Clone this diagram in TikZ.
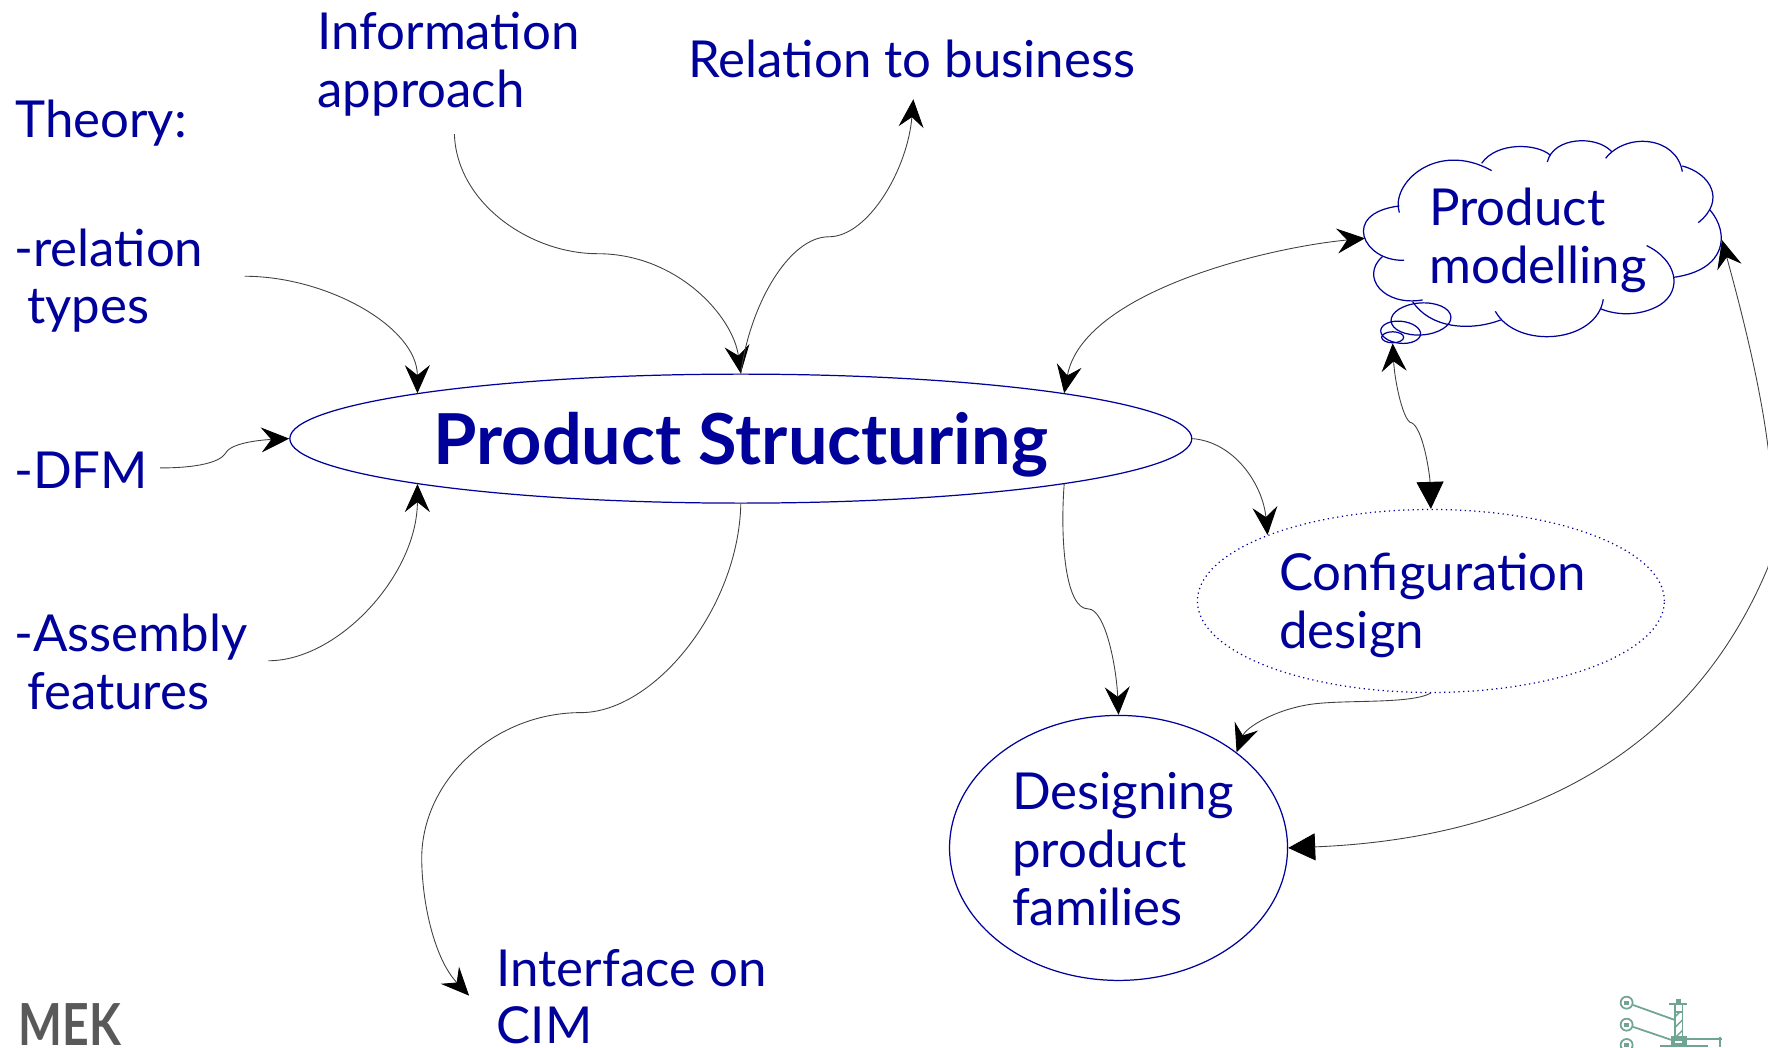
\documentclass[tikz,border=0pt]{standalone}
\usepackage{fontspec}
\setmainfont{Lato}
\usetikzlibrary{arrows.meta,shapes.geometric,patterns}
\definecolor{inkblue}{RGB}{0,0,155}
\definecolor{logogreen}{RGB}{112,165,146}
\tikzset{
  smalltip/.tip={Stealth[length=0.28cm,width=0.25cm,inset=0.1cm,color=black]},
  bigtip/.tip={Stealth[length=0.27cm,width=0.27cm,inset=0pt,color=black]},
  label/.style={text=inkblue,inner sep=0pt,align=left,anchor=west,font=\fontsize{14.5}{16.4}\selectfont},
  blob/.style={draw=inkblue,ellipse,inner sep=0pt,line width=0.35pt},
  cloudline/.style={draw=inkblue,line width=0.35pt},
  link/.style={draw=black!75,line width=0.25pt},
  logoline/.style={draw=logogreen,line width=0.5pt}
}
\begin{document}
\begin{tikzpicture}[x=0.011276cm,y=-0.011276cm]
\useasboundingbox (0,0) rectangle (1568,928.6);
\clip (0,0) rectangle (1568,928.6);
\node[label] (theory) at (13,109) {Theory:};
\node[label] (info) at (281,57) {Information\\approach};
\node[label] (business) at (610,52) {Relation to business};
\node[label] (relation) at (12,249) {-relation\\\hspace{0.13cm}types};
\node[label] (dfm) at (12,417) {-DFM};
\node[label] (assembly) at (12,587) {-Assembly\\\hspace{0.13cm}features};
\node[label] (cim) at (440,884) {Interface on\\CIM};
\node[blob,minimum width=9.02cm,minimum height=1.29cm] (structuring) at (657,389) {};
\node[text=inkblue,inner sep=0pt,font=\fontsize{20}{24}\bfseries\selectfont] (structuringlabel) at (657,394) {Product Structuring};
\node[blob,densely dotted,minimum width=4.67cm,minimum height=1.83cm] (config) at (1269,533) {};
\node[label] (configlabel) at (1134,537) {Configuration\\design};
\node[blob,minimum width=3.38cm,minimum height=2.65cm] (families) at (992,752) {};
\node[label] (familieslabel) at (897,753) {Designing\\product\\families};
\node[label] (modelling) at (1267,213) {Product\\modelling};
\begin{scope}[shift={(1188.4,106.4)},scale=0.2956]
  \draw[cloudline] (178,278) .. controls (150,190) and (290,60) .. (455,152);
  \draw[cloudline] (425,130) .. controls (470,65) and (590,70) .. (630,105);
  \draw[cloudline] (622,126) .. controls (640,50) and (770,45) .. (815,95);
  \draw[cloudline] (797,115) .. controls (860,35) and (1010,50) .. (1027,155);
  \draw[cloudline] (1027,138) .. controls (1110,160) and (1160,240) .. (1075,308);
  \draw[cloudline] (1110,270) .. controls (1170,340) and (1160,450) .. (1002,472);
  \draw[cloudline] (920,377) .. controls (1010,420) and (1030,510) .. (960,555) .. controls (910,585) and (840,590) .. (783,567);
  \draw[cloudline] (790,538) .. controls (770,670) and (530,690) .. (466,574);
  \draw[cloudline] (482,600) .. controls (390,635) and (270,625) .. (218,545);
  \draw[cloudline] (248,540) .. controls (130,560) and (60,470) .. (127,410);
  \draw[cloudline] (192,421) .. controls (70,425) and (0,280) .. (178,258);
  \node[blob,minimum width=0.6cm,minimum height=0.32cm,rotate=4] (bubblea) at (243,597) {};
  \node[blob,minimum width=0.4cm,minimum height=0.22cm,rotate=-6] (bubbleb) at (182,637) {};
  \node[blob,minimum width=0.22cm,minimum height=0.11cm] (bubblec) at (158,652) {};
  \coordinate (cloudwest) at (75,355);
  \coordinate (cloudeast) at (1146,360);
\end{scope}
\coordinate (infotail) at (403,119);
\coordinate (relationtail) at (217,245);
\coordinate (dfmtail) at (142,415);
\coordinate (assemblytail) at (238,586);
\coordinate (businesshead) at (810,88);
\coordinate (cimhead) at (416,883);
\draw[link,-smalltip] (infotail) .. controls (405,180) and (470,225) .. (530,225) .. controls (600,225) and (650,280) .. (structuring.north);
\draw[link,-smalltip] (structuring.north) .. controls (665,270) and (700,210) .. (735,210) .. controls (770,210) and (805,150) .. (businesshead);
\draw[link,-smalltip] (relationtail) .. controls (290,245) and (370,290) .. (structuring.172.6);
\draw[link,-smalltip] (dfmtail) .. controls (175,415) and (195,410) .. (200,402) .. controls (205,392) and (235,390) .. (structuring.west);
\draw[link,-smalltip] (assemblytail) .. controls (300,586) and (370,510) .. (structuring.188.2);
\draw[link,-smalltip] (structuring.south) .. controls (655,540) and (580,632) .. (515,632) .. controls (440,632) and (375,690) .. (374,760) .. controls (374,800) and (385,850) .. (cimhead);
\draw[link,-smalltip] (structuring.east) .. controls (1095,392) and (1120,430) .. (config.158);
\draw[link,-smalltip] (structuring.352.1) .. controls (940,480) and (945,540) .. (965,540) .. controls (980,540) and (990,590) .. (families.north);
\draw[link,-smalltip] (config.south) .. controls (1250,625) and (1190,620) .. (1160,625) .. controls (1130,630) and (1105,645) .. (families.39);
\draw[link,smalltip-smalltip] (cloudwest) .. controls (1120,220) and (960,260) .. (structuring.8.4);
\draw[link,smalltip-bigtip] (bubblec.south) .. controls (1237,340) and (1245,375) .. (1252,375) .. controls (1262,380) and (1268,420) .. (config.north);
\draw[link,bigtip-smalltip] (families.east) .. controls (1320,745) and (1490,690) .. (1568,503) .. controls (1580,440) and (1565,350) .. (cloudeast);
\node[text=black!65,inner sep=0pt,anchor=base west,xscale=0.8,font=\fontsize{16.5}{20}\bfseries\selectfont] (mek) at (16,927) {MEK};
\begin{scope}[shift={(1401.2,851.4)},scale=0.2956]
  \node[logoline,draw,circle,minimum size=0.12cm,inner sep=0pt,line width=0.5pt] (marka) at (140,128) {};
  \node[logoline,draw,circle,minimum size=0.12cm,inner sep=0pt,line width=0.5pt] (markb) at (140,194) {};
  \node[logoline,draw,circle,minimum size=0.12cm,inner sep=0pt,line width=0.5pt] (markc) at (140,255) {};
  \fill[logogreen] (133,122) rectangle (148,134);
  \fill[logogreen] (133,188) rectangle (148,200);
  \fill[logogreen] (133,249) rectangle (148,261);
  \draw[logoline] (268,132) -- (320,132);
  \fill[logogreen] (288,118) rectangle (303,131);
  \draw[logoline] (285,132) rectangle (308,230);
  \draw[logoline,pattern=north east lines,pattern color=logogreen] (285,155) rectangle (308,230);
  \fill[logogreen] (272,227) rectangle (322,261);
  \draw[white,line width=0.5pt] (285,246) -- (306,246);
  \draw[logoline] (322,237) -- (425,237);
  \draw[logoline] (240,258) -- (385,258);
  \draw[logoline] (420,230) -- (420,262);
  \coordinate (stema) at (285,180);
  \coordinate (stemb) at (275,240);
  \coordinate (stemc) at (195,285);
  \draw[logoline] (marka) -- (stema);
  \draw[logoline] (markb) -- (stemb);
  \draw[logoline] (markc) -- (stemc);
\end{scope}
\end{tikzpicture}
\end{document}
